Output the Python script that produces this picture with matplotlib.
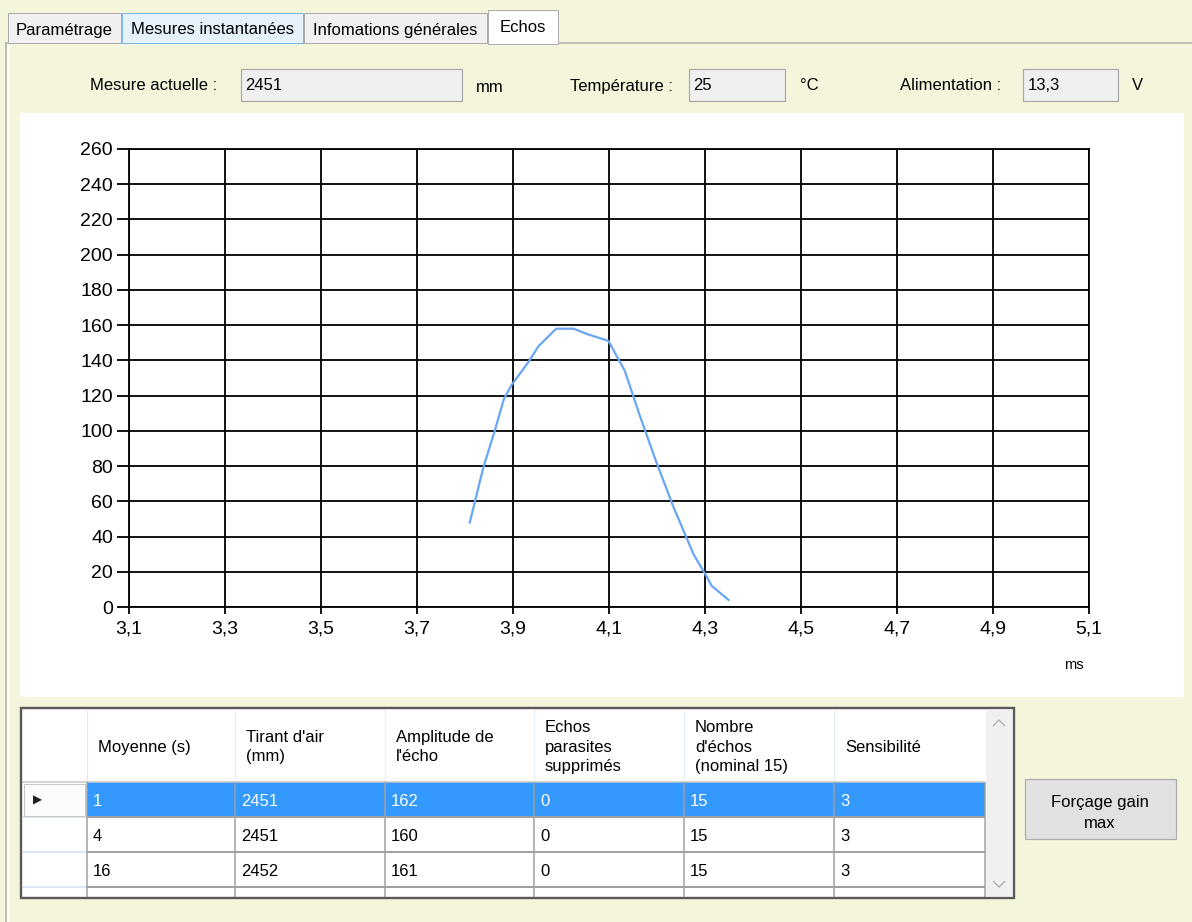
import matplotlib
matplotlib.use("Agg")
import matplotlib.pyplot as plt
from matplotlib.patches import Rectangle

# ---------------- data ----------------
echo_time_ms = [3.810, 3.838, 3.862, 3.881, 3.897, 3.932, 3.953, 3.990, 4.026,
                4.054, 4.099, 4.133, 4.165, 4.199, 4.234, 4.276, 4.304, 4.314, 4.349]
echo_amplitude = [48, 79, 100, 118, 126, 139, 148, 158, 158,
                  155, 151, 134, 108, 82, 57, 30, 17, 12, 4]

x_ticks = [3.1, 3.3, 3.5, 3.7, 3.9, 4.1, 4.3, 4.5, 4.7, 4.9, 5.1]
y_ticks = [0, 20, 40, 60, 80, 100, 120, 140, 160, 180, 200, 220, 240, 260]

tabs = ["Paramétrage", "Mesures instantanées", "Infomations générales", "Echos"]

mesure_actuelle = "2451"
temperature = "25"
alimentation = "13,3"

table_headers = ["Moyenne (s)", "Tirant d'air\n(mm)", "Amplitude de\nl'écho",
                 "Echos\nparasites\nsupprimés", "Nombre\nd'échos\n(nominal 15)", "Sensibilité"]
moyenne = [1, 4, 16]
tirant_air = [2451, 2451, 2452]
amplitude_echo = [162, 160, 161]
echos_parasites = [0, 0, 0]
nombre_echos = [15, 15, 15]
sensibilite = [3, 3, 3]

# ---------------- figure ----------------
W, H = 1192, 922
BEIGE = "#F5F5DC"
FONT = "Liberation Sans"
PX = 0.72  # points per pixel at dpi 100

fig = plt.figure(figsize=(W / 100, H / 100), dpi=100, facecolor=BEIGE)
bg = fig.add_axes([0, 0, 1, 1], zorder=0)
bg.set_xlim(0, W)
bg.set_ylim(H, 0)
bg.axis("off")
bg.set_facecolor(BEIGE)


def rect(x0, y0, x1, y1, fc, ec="none", lw=1.0, z=1):
    bg.add_patch(Rectangle((x0, y0), x1 - x0, y1 - y0, facecolor=fc,
                           edgecolor=ec, linewidth=lw * PX, zorder=z))


def line(xs, ys, color, lw=1.0, z=2):
    bg.plot(xs, ys, color=color, lw=lw * PX, zorder=z, solid_capstyle="butt")


def txt(x, y, s, ha="left", va="center", size=12, color="black", z=5, **kw):
    bg.text(x, y, s, ha=ha, va=va, fontsize=size, color=color,
            family=FONT, zorder=z, **kw)


# tab page borders
line([5, W], [43, 43], "#ACACAC", 1.5)
line([5.5, 5.5], [43, H], "#ACACAC", 1.5)
rect(6.5, 44, 10, H, "#FBFBF0", z=1)

# tabs
tab_x = [(8, 121), (122, 303), (304, 487)]
tab_fc = ["#F0F0F0", "#E5F1FB", "#F0F0F0"]
tab_ec = ["#ACACAC", "#7EB4EA", "#ACACAC"]
for (x0, x1), fc, ec, name in zip(tab_x, tab_fc, tab_ec, tabs[:3]):
    rect(x0, 13, x1, 43, fc, ec, 1.0, z=2)
    txt((x0 + x1) / 2, 30, name, ha="center")
rect(488, 10, 558, 44, "white", "#ACACAC", 1.0, z=3)
line([489, 557], [43.5, 43.5], "white", 2, z=4)
txt(523, 27, tabs[3], ha="center")

# info row
txt(90, 86, "Mesure actuelle :")
rect(241, 69, 462, 101, "#F0F0F0", "#A9A9A9", 1.2, z=2)
txt(245, 86, mesure_actuelle)
txt(476, 87, "mm")

txt(570, 86, "Température :")
rect(689, 69, 785, 101, "#F0F0F0", "#A9A9A9", 1.2, z=2)
txt(693, 86, temperature)
txt(800, 86, "°C")

txt(900, 86, "Alimentation :")
rect(1023, 69, 1118, 101, "#F0F0F0", "#A9A9A9", 1.2, z=2)
txt(1028, 86, alimentation)
txt(1132, 86, "V")

# chart white panel
rect(20, 113, 1184, 697, "white", z=1)
txt(1074, 665, "ms", ha="center", size=10.5)

# ---------------- chart ----------------
ax = fig.add_axes([129 / W, 1 - 607 / H, 960 / W, 458 / H], zorder=3)
ax.set_facecolor("white")
ax.plot(echo_time_ms, echo_amplitude, color="#6AA6F2", lw=1.6, zorder=3)
ax.set_xlim(x_ticks[0], x_ticks[-1])
ax.set_ylim(y_ticks[0], y_ticks[-1])
ax.set_xticks(x_ticks)
ax.set_xticklabels([f"{v:.1f}".replace(".", ",") for v in x_ticks])
ax.set_yticks(y_ticks)
ax.set_yticklabels([str(v) for v in y_ticks])
ax.grid(True, color="black", lw=1.3)
for s in ax.spines.values():
    s.set_color("black")
    s.set_linewidth(1.3)
ax.tick_params(axis="y", direction="out", length=8.6, width=1.3, pad=3,
               labelsize=14, colors="black")
ax.tick_params(axis="x", direction="out", length=5, width=1.3, pad=5,
               labelsize=14, colors="black")
for lab in ax.get_xticklabels() + ax.get_yticklabels():
    lab.set_family(FONT)

# ---------------- table ----------------
cols_x = [87, 235, 385, 534, 684, 834, 985]
head_top, head_bot = 710, 782
row_h = 35
rows_y = [head_bot + i * row_h for i in range(4)]
tab_bottom = 897

rect(21, 708, 1014, 898, "white", "#5A5A5A", 2.2, z=2)
# selected row
rect(cols_x[0], rows_y[0], cols_x[-1], rows_y[1], "#3399FF", z=3)
# header separators
for cx in cols_x[:-1]:
    line([cx, cx], [head_top, head_bot], "#E3EBF4", 1.2, z=3)
line([22, cols_x[-1]], [head_bot, head_bot], "#C8C8C8", 1.5, z=4)
# data grid lines
for ry in rows_y[1:]:
    line([cols_x[0], cols_x[-1]], [ry, ry], "#A0A0A0", 2, z=4)
    line([22, cols_x[0]], [ry, ry], "#DCE6F4", 2, z=4)
for cx in cols_x:
    line([cx, cx], [head_bot, tab_bottom], "#A0A0A0", 1.5, z=4)
# row header selected cell
rect(24, rows_y[0] + 1.5, 85, rows_y[1] - 1.5, "#FBFBFB", "#C8C8C8", 1.0, z=4)
bg.text(37, rows_y[0] + row_h / 2 + 1, "\u25B6", ha="center", va="center",
        fontsize=8.5, color="#202020", family="DejaVu Sans", zorder=6)

# header texts
for cx, h in zip(cols_x[:-1], table_headers):
    txt(cx + 11, 747, h, linespacing=1.4)

# data texts
columns = [moyenne, tirant_air, amplitude_echo, echos_parasites, nombre_echos, sensibilite]
for r in range(3):
    color = "white" if r == 0 else "black"
    yc = rows_y[r] + row_h / 2 + 1.5
    for cx, col in zip(cols_x[:-1], columns):
        txt(cx + 6, yc, str(col[r]), color=color)

# scrollbar
rect(986, 709, 1013, 897, "#F0F0F0", z=5)
line([993, 999, 1005], [726, 720, 726], "#A8A8A8", 1.2, z=6)
line([993, 999, 1005], [881, 887, 881], "#A8A8A8", 1.2, z=6)
rect(21, 708, 1014, 898, "none", "#5A5A5A", 2.2, z=7)

# button
rect(1025, 779, 1176, 839, "#E1E1E1", "#ADADAD", 1.2, z=2)
txt(1100, 802, "Forçage gain", ha="center")
txt(1100, 823, "max", ha="center")

fig.savefig("out.png", dpi=100, facecolor=BEIGE)
